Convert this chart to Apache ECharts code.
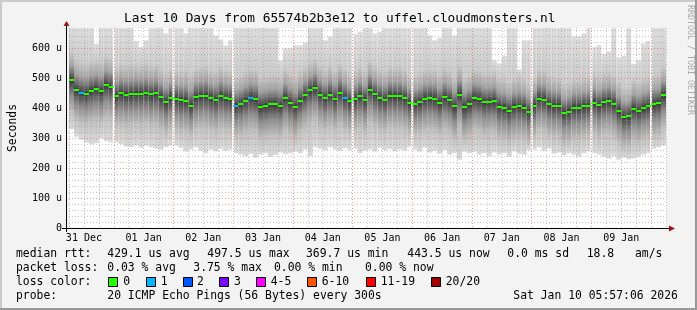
<!DOCTYPE html>
<html><head><meta charset="utf-8">
<script src="https://cdn.jsdelivr.net/npm/echarts@6/dist/echarts.min.js"></script>
<style>html,body{margin:0;padding:0;background:#f3f3f3}#c{width:697px;height:310px}</style>
</head><body><div id="c"></div>
<script>
// ---- data ----
const titleText = 'Last 10 Days from 65574b2b3e12 to uffel.cloudmonsters.nl';
const dayLabels = ['31 Dec','01 Jan','02 Jan','03 Jan','04 Jan','05 Jan','06 Jan','07 Jan','08 Jan','09 Jan'];
const yTickValues = [0,100,200,300,400,500,600];
const startHour = 6;      // hours after 31 Dec 00:00
const stepHours = 2;
const medianRtt = [
 493,460,450,448,458,465,456,477,471,440,
 450,445,446,449,449,450,446,450,436,420,
 434,432,426,425,408,436,440,442,434,428,
 440,434,431,408,414,425,435,430,405,408,
 413,413,408,434,418,405,425,443,460,468,
 445,433,445,431,452,435,424,430,441,428,
 462,446,434,428,442,440,440,433,418,415,
 420,432,434,432,419,436,427,406,445,404,
 415,434,430,420,421,424,405,402,392,405,
 406,402,387,409,432,429,414,409,409,384,
 389,402,402,406,409,419,410,420,424,415,
 391,370,373,398,390,401,407,414,417,443];
const smokeMin = [
 330,305,295,285,280,283,300,290,285,
 285,280,272,270,276,268,275,270,265,262,270,275,
 275,268,255,262,270,258,250,262,256,265,258,262,
 250,245,240,248,235,245,250,238,244,252,246,250,
 255,250,262,240,270,265,260,270,262,258,266,260,
 265,250,258,262,255,268,260,264,256,262,258,270,
 262,255,268,252,258,248,260,245,250,228,255,250,
 255,245,250,240,252,246,250,238,256,248,244,260,
 262,270,258,265,248,252,242,250,245,238,250,255,
 250,245,238,232,240,228,235,230,232,238,245,250,
 265,270,275];
const smokeLo = [
 390,365,355,350,355,360,355,370,365,340,
 345,340,345,345,342,350,340,345,330,318,
 330,325,320,322,310,330,335,335,328,322,
 335,328,325,305,310,320,328,325,300,305,
 310,310,305,328,315,300,320,338,350,360,
 340,330,340,328,345,330,320,325,335,322,
 355,340,330,325,338,335,335,328,315,312,
 318,328,330,328,315,332,322,300,340,298,
 310,330,325,315,318,320,300,298,288,300,
 302,298,285,305,328,325,310,305,305,282,
 285,298,298,302,305,315,305,315,318,310,
 288,270,272,295,288,298,302,310,312,338];
const smokeHi = [
 590,565,555,550,560,560,555,575,570,540,
 548,545,550,548,545,552,545,548,535,520,
 535,530,525,528,515,535,540,542,530,525,
 540,530,528,505,512,522,532,530,505,508,
 512,515,505,530,518,505,522,540,555,565,
 545,530,545,528,550,535,520,528,540,525,
 560,545,532,525,540,538,540,530,515,512,
 518,530,532,530,515,535,525,505,545,502,
 512,532,528,518,520,522,502,500,490,502,
 505,500,485,505,530,528,512,508,505,482,
 488,500,500,505,508,518,508,518,522,512,
 490,470,472,495,488,500,505,512,515,540];
const smokeMax = [
 668,668,668,668,668,615,668,668,668,668,
 668,668,668,625,605,627,668,668,668,650,
 668,668,668,650,668,668,668,668,668,643,
 630,610,627,668,668,668,668,668,668,668,
 668,668,560,600,600,610,610,620,668,668,
 668,627,640,668,668,668,668,649,655,668,
 668,650,655,668,668,668,668,668,668,668,
 668,668,643,627,635,668,668,643,668,668,
 668,668,668,668,668,560,550,575,668,668,
 530,627,627,668,668,668,668,668,668,668,
 668,640,640,650,668,604,610,582,590,668,
 570,575,668,548,560,616,625,668,668,668];
const lossCount = [
 0,0,1,0,0,0,0,0,0,0, 0,0,0,0,0,0,0,0,0,0,
 0,0,0,0,0,0,0,0,0,0, 0,0,0,1,0,0,1,0,0,0,
 0,0,0,0,0,0,0,0,0,0, 0,0,0,0,0,1,0,0,0,0,
 0,0,0,0,0,0,0,0,0,0, 0,0,0,0,0,0,0,0,0,0,
 0,0,0,0,0,0,0,0,0,0, 0,0,0,0,0,0,0,0,0,0,
 0,0,0,0,0,0,0,0,0,0, 0,0,0,0,0,0,0,0,0,0];
const gapHours = [24,48,72,120,144,192,216,240];
const lossLabels = ['0','1','2','3','4-5','6-10','11-19','20/20'];
const lossColors = ['#26ff00','#00b8ff','#0059ff','#7e00ff','#ff00ff','#ff5500','#ff0000','#a10000'];
const lossUpper = [0,1,2,3,5,10,19,20];
const legendRtt = ['median rtt:','429.1 us avg','497.5 us max','369.7 us min','443.5 us now','0.0 ms sd','18.8','am/s'];
const legendLoss = ['packet loss:','0.03 % avg','3.75 % max','0.00 % min','0.00 % now'];
const legendProbe = ['probe:','20 ICMP Echo Pings (56 Bytes) every 300s','Sat Jan 10 05:57:06 2026'];

// ---- layout / style ----
const MONO = '"DejaVu Sans Mono", monospace';
const LEG = 11.4, AX = 10, TTL = 12.8;
const MINOR = 'rgba(150,150,150,0.55)', MAJOR = 'rgba(225,60,60,0.5)';

const smokeData = medianRtt.map((m,i)=>[startHour+i*stepHours, startHour+(i+1)*stepHours, smokeMin[i], smokeLo[i], m, smokeHi[i], smokeMax[i]]);
const medData = medianRtt.map((m,i)=>[startHour+i*stepHours, startHour+(i+1)*stepHours, m, lossCount[i]]);
const gapData = gapHours.map(h=>[h]);

function renderSmoke(params, api){
  const t0=api.value(0), t1=api.value(1);
  const pMin=api.coord([t0, api.value(2)]);
  const pLo=api.coord([t0, api.value(3)]);
  const pMed=api.coord([t0, api.value(4)]);
  const pHi=api.coord([t0, api.value(5)]);
  const pMax=api.coord([t0, api.value(6)]);
  const pEnd=api.coord([t1, api.value(2)]);
  const top=pMax[1], bot=pMin[1], h=bot-top;
  const off = y => Math.min(1,Math.max(0,(y-top)/h));
  const yHi=pHi[1], yMed=pMed[1], yLo=pLo[1];
  return {type:'rect', shape:{x:pMin[0], y:top, width:pEnd[0]-pMin[0], height:h},
    style:{fill:new echarts.graphic.LinearGradient(0,0,0,1,[
      {offset:0,color:'#dcdcdc'},
      {offset:off(yHi),color:'#cbcbcb'},
      {offset:off(yMed+(yHi-yMed)*0.5),color:'#a2a2a2'},
      {offset:off(yMed+(yHi-yMed)*0.15),color:'#5a5a5a'},
      {offset:off(yMed),color:'#383838'},
      {offset:off(yMed+(yLo-yMed)*0.15),color:'#545454'},
      {offset:off(yMed+(yLo-yMed)*0.5),color:'#8e8e8e'},
      {offset:off(yLo),color:'#bfbfbf'},
      {offset:1,color:'#dadada'}])}};
}
function lossIndex(n){ for(let k=0;k<lossUpper.length;k++){ if(n<=lossUpper[k]) return k; } return lossUpper.length-1; }
function renderMedian(params, api){
  const a=api.coord([api.value(0), api.value(2)]);
  const b=api.coord([api.value(1), api.value(2)]);
  const y=Math.round(a[1]);
  return {type:'rect', shape:{x:a[0], y:y-1, width:b[0]-a[0], height:2},
    style:{fill:lossColors[lossIndex(api.value(3))]}};
}
function renderGap(params, api){
  const h=api.value(0);
  const a=api.coord([h-0.4, 668]);
  const b=api.coord([h+0.4, 0]);
  return {type:'rect', shape:{x:a[0], y:a[1], width:b[0]-a[0], height:b[1]-a[1]}, style:{fill:'#ffffff'}};
}

const graphics = [];
graphics.push({type:'rect', shape:{x:0,y:0,width:697,height:2}, style:{fill:'#cbcbcb'}, z:100});
graphics.push({type:'rect', shape:{x:0,y:0,width:2,height:310}, style:{fill:'#cbcbcb'}, z:100});
graphics.push({type:'rect', shape:{x:695,y:0,width:2,height:310}, style:{fill:'#999999'}, z:100});
graphics.push({type:'rect', shape:{x:0,y:308,width:697,height:2}, style:{fill:'#999999'}, z:100});
graphics.push({type:'line', shape:{x1:62,y1:228.5,x2:670,y2:228.5}, style:{stroke:'#000',lineWidth:1}, z:100});
graphics.push({type:'line', shape:{x1:66.5,y1:232,x2:66.5,y2:25}, style:{stroke:'#000',lineWidth:1}, z:100});
graphics.push({type:'polygon', shape:{points:[[66.5,21],[63.5,26],[69.5,26]]}, style:{fill:'#9a1515'}, z:101});
graphics.push({type:'polygon', shape:{points:[[675,228.5],[669,225.5],[669,231.5]]}, style:{fill:'#9a1515'}, z:101});
function txt(s,x,y,size,extra){ return Object.assign({type:'text', x:x, y:y, z:100,
  style:{text:s, fill:'#000', font:size+'px '+MONO, textAlign:'left', textVerticalAlign:'middle'}}, extra||{}); }
graphics.push(txt(titleText,124,19,TTL));
graphics.push({type:'text', x:690, y:5, rotation:-Math.PI/2, z:100,
  style:{text:'RRDTOOL / TOBI OETIKER', fill:'#aaaaaa', font:'8.3px '+MONO, textAlign:'left', textVerticalAlign:'middle'}});
const rttX=[16,107.3,207.3,306,407.3,507.3,586.7,635];
legendRtt.forEach((s,i)=>graphics.push(txt(s,rttX[i],254.5,LEG)));
const lossX=[16,107.3,193.3,274,365];
legendLoss.forEach((s,i)=>graphics.push(txt(s,lossX[i],268.5,LEG)));
graphics.push(txt('loss color:',16,282.5,LEG));
const boxX=[108,145.7,182.7,219,256,307.3,365.7,430.7];
const boxLabelX=[123.3,160.7,197,234,270.7,321.7,380.7,445.7];
lossLabels.forEach((s,i)=>{
  graphics.push({type:'rect', shape:{x:Math.round(boxX[i])+0.5,y:277.5,width:9,height:9}, style:{fill:lossColors[i],stroke:'#000',lineWidth:1}, z:100});
  graphics.push(txt(s,boxLabelX[i],282.5,LEG));
});
const probeX=[16,107.3,513.3];
legendProbe.forEach((s,i)=>graphics.push(txt(s,probeX[i],296.5,LEG)));

const chart = echarts.init(document.getElementById('c'), null, {renderer:'canvas'});
chart.setOption({
  animation:false,
  backgroundColor:'#f3f3f3',
  grid:{left:66, right:31, top:28, bottom:82, show:true, backgroundColor:'#ffffff', borderWidth:0},
  xAxis:{type:'value', min:6, max:246, interval:6, z:10,
    axisLine:{show:false}, axisTick:{show:false},
    axisLabel:{formatter:v=>((v-12)%24===0 && (v-12)/24<dayLabels.length) ? dayLabels[(v-12)/24] : '',
      fontFamily:MONO, fontSize:AX, color:'#000', margin:5},
    splitLine:{show:true, lineStyle:{color:[MINOR,MINOR,MINOR,MAJOR], type:[1,2], width:1}}},
  yAxis:{type:'value', min:0, max:668, interval:20, z:10,
    axisLine:{show:false}, axisTick:{show:false},
    axisLabel:{formatter:v=> yTickValues.indexOf(v)>=0 ? (v===0?'0':v+' u') : '',
      fontFamily:MONO, fontSize:AX, color:'#000', margin:7},
    name:'Seconds', nameLocation:'middle', nameGap:50, nameRotate:90,
    nameTextStyle:{fontFamily:MONO, fontSize:LEG, color:'#000'},
    splitLine:{show:true, showMaxLine:false, lineStyle:{color:[MAJOR,MINOR,MINOR,MINOR,MINOR], type:[1,2], width:1}}},
  series:[
    {type:'custom', name:'smoke', data:smokeData, renderItem:renderSmoke, encode:{x:[0,1], y:[2,3,4,5,6]}, z:2, silent:true},
    {type:'custom', name:'gaps', data:gapData, renderItem:renderGap, encode:{x:0}, z:3, silent:true},
    {type:'custom', name:'median', data:medData, renderItem:renderMedian, encode:{x:[0,1], y:2}, z:20, silent:true}
  ],
  graphic:graphics
});
</script></body></html>
